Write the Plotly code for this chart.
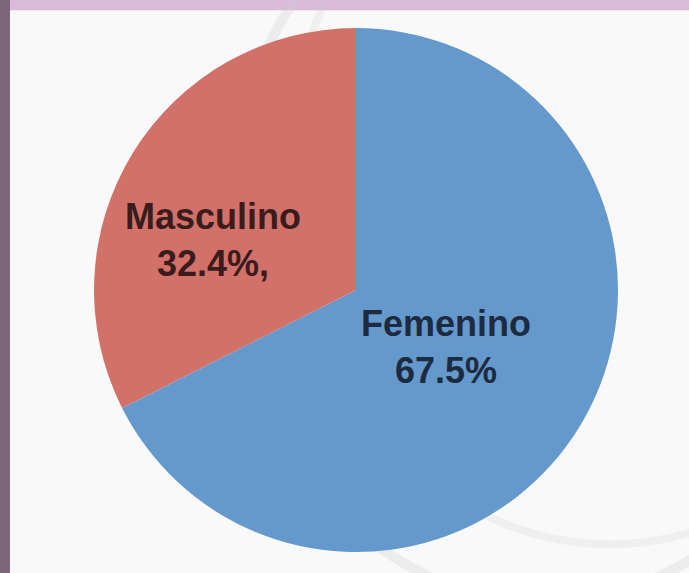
import plotly.graph_objects as go

labels = ["Femenino", "Masculino"]
values = [67.5, 32.4]
text_labels = ["<b>Femenino<br>67.5%</b>", "<b>Masculino<br>32.4%,</b>"]
colors = ["#6598cb", "#d2716a"]
text_colors = ["#1c2b40", "#3a1c1c"]
label_pos = [(0.647, 0.394), (0.309, 0.581)]

fig = go.Figure(go.Pie(
    labels=labels,
    values=values,
    textinfo="none",
    sort=False,
    direction="clockwise",
    rotation=0,
    marker=dict(colors=colors, line=dict(width=0)),
    domain=dict(x=[0.1364, 0.897], y=[0.0366, 0.951]),
    showlegend=False,
    hoverinfo="label+value",
))

annotations = [
    dict(text=t, x=p[0], y=p[1], xref="paper", yref="paper", showarrow=False,
         xanchor="center", yanchor="middle",
         font=dict(family="Liberation Sans, Arial, sans-serif", size=36, color=c))
    for t, p, c in zip(text_labels, label_pos, text_colors)
]

fig.update_layout(
    width=689, height=573,
    margin=dict(l=0, r=0, t=0, b=0),
    paper_bgcolor="#f9f9f9",
    plot_bgcolor="#f9f9f9",
    annotations=annotations,
    shapes=[
        dict(type="rect", xref="paper", yref="paper", x0=0, x1=1, y0=0.982, y1=1.0,
             fillcolor="#dbb9d8", line=dict(width=0), layer="below"),
        dict(type="rect", xref="paper", yref="paper", x0=0, x1=0.0145, y0=0, y1=1.0,
             fillcolor="#7b6579", line=dict(width=0), layer="below"),
        dict(type="circle", xref="paper", yref="paper", x0=0.33, x1=1.25, y0=-0.05, y1=1.25,
             line=dict(color="rgba(205,205,205,0.3)", width=10), layer="below"),
        dict(type="circle", xref="paper", yref="paper", x0=0.42, x1=1.35, y0=0.05, y1=1.35,
             line=dict(color="rgba(205,205,205,0.22)", width=8), layer="below"),
    ],
)

fig.write_html("out.html", config={"displayModeBar": False},
               post_script="document.body.style.margin='0';")
